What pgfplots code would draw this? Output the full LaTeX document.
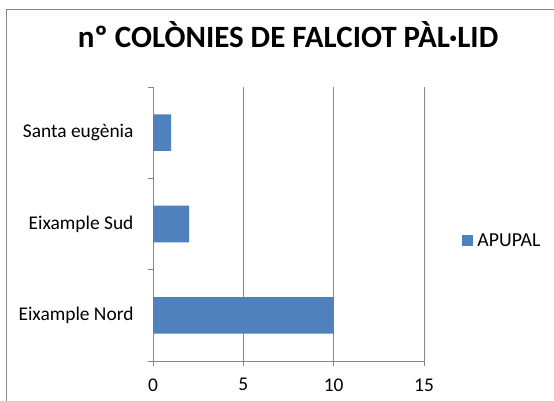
\documentclass[border=0pt]{standalone}
\usepackage{fontspec}
\setmainfont{Carlito}
\usepackage{pgfplots}
\pgfplotsset{compat=1.18}
\definecolor{barblue}{HTML}{4F81BD}
\definecolor{axgray}{HTML}{868686}
\begin{document}
\begin{tikzpicture}[x=1pt,y=1pt]
\path[use as bounding box] (0,0) rectangle (554,401);
\draw[axgray, line width=1pt] (6,0) -- (6,391) -- (554,391);
\node[anchor=base, font=\fontsize{31}{36}\selectfont\bfseries] at (288,353) {nº COLÒNIES DE FALCIOT PÀL·LID};
\begin{axis}[
  at={(153pt,40pt)}, anchor=south west,
  scale only axis, width=271pt, height=274pt,
  xbar, bar width=0.4,
  xmin=0, xmax=15, ymin=-0.5, ymax=2.5,
  xtick={0,5,10,15},
  ytick={-0.5,0.5,1.5,2.5}, yticklabels={},
  extra y ticks={0,1,2},
  extra y tick labels={Eixample Nord,Eixample Sud,Santa eugènia},
  extra y tick style={major tick length=0pt, yticklabel style={xshift=-16pt}},
  tick align=outside, major tick length=5pt,
  axis x line*=bottom, axis y line*=left,
  axis line style={draw=axgray, line width=0.9pt, -},
  tick style={draw=axgray, line width=0.9pt},
  xmajorgrids, major grid style={draw=axgray, line width=0.9pt},
  ticklabel style={font=\fontsize{19.4}{23}\selectfont, text=black},
  /pgf/number format/assume math mode=true,
  xticklabel style={yshift=-9pt},
  legend style={at={(1.13,0.44)}, anchor=west, draw=none, fill=none, font=\fontsize{19.8}{23}\selectfont},
  legend image code/.code={\fill[barblue] (0pt,-5.5pt) rectangle (11pt,5.5pt);},
  legend cell align=left,
]
\addplot[fill=barblue, draw=none] coordinates {(10,0) (2,1) (1,2)};
\addlegendentry{\hspace{2pt}APUPAL}
\end{axis}
\end{tikzpicture}
\end{document}
